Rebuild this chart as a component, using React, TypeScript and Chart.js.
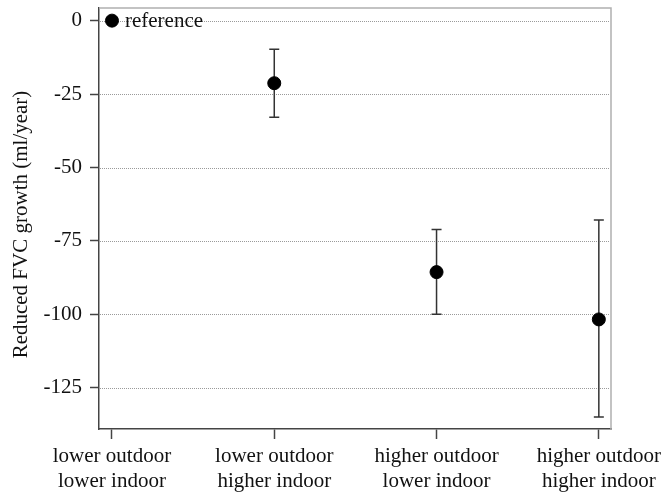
import React, { useEffect, useRef } from "react";
import { Chart, registerables } from "chart.js";

Chart.register(...registerables);

const categories: string[][] = [
  ["lower outdoor", "lower indoor"],
  ["lower outdoor", "higher indoor"],
  ["higher outdoor", "lower indoor"],
  ["higher outdoor", "higher indoor"],
];
const estimates: number[] = [0, -21.3, -85.6, -101.7];
const lowerCI: (number | null)[] = [null, -32.9, -99.9, -134.9];
const upperCI: (number | null)[] = [null, -9.7, -71.1, -67.9];
const yTicks: number[] = [0, -25, -50, -75, -100, -125];
const referenceLabel = "reference";
const yTitle = "Reduced FVC growth (ml/year)";

const FONT = "'Liberation Serif', 'DejaVu Serif', serif";

export default function App() {
  const ref = useRef<HTMLCanvasElement | null>(null);

  useEffect(() => {
    if (!ref.current) return;

    const extras = {
      id: "extras",
      beforeDatasetsDraw(chart: any) {
        const { ctx, scales, chartArea } = chart;
        const x = scales.x;
        const y = scales.y;
        ctx.save();
        // dotted horizontal grid lines
        ctx.strokeStyle = "#9a9a9a";
        ctx.lineWidth = 1;
        ctx.setLineDash([1, 1]);
        yTicks.forEach((v) => {
          const py = Math.round(y.getPixelForValue(v)) + 0.5;
          ctx.beginPath();
          ctx.moveTo(chartArea.left + 1, py);
          ctx.lineTo(chartArea.right - 1, py);
          ctx.stroke();
        });
        ctx.setLineDash([]);
        // gray top/right frame
        ctx.strokeStyle = "#b0b0b0";
        ctx.lineWidth = 1.5;
        ctx.beginPath();
        ctx.moveTo(chartArea.left, chartArea.top);
        ctx.lineTo(chartArea.right, chartArea.top);
        ctx.lineTo(chartArea.right, chartArea.bottom);
        ctx.stroke();
        // error bars
        ctx.strokeStyle = "#333";
        ctx.lineWidth = 1.5;
        estimates.forEach((_, i) => {
          const lo = lowerCI[i];
          const hi = upperCI[i];
          if (lo == null || hi == null) return;
          const px = x.getPixelForValue(i);
          const y1 = y.getPixelForValue(lo);
          const y2 = y.getPixelForValue(hi);
          ctx.beginPath();
          ctx.moveTo(px, y1);
          ctx.lineTo(px, y2);
          ctx.moveTo(px - 5, y1);
          ctx.lineTo(px + 5, y1);
          ctx.moveTo(px - 5, y2);
          ctx.lineTo(px + 5, y2);
          ctx.stroke();
        });
        ctx.restore();
      },
      afterDatasetsDraw(chart: any) {
        const { ctx, scales, chartArea } = chart;
        const px = scales.x.getPixelForValue(0);
        const py = scales.y.getPixelForValue(estimates[0]);
        ctx.save();
        ctx.fillStyle = "#111";
        ctx.font = `21px ${FONT}`;
        ctx.textAlign = "left";
        ctx.textBaseline = "alphabetic";
        ctx.fillText(referenceLabel, px + 13, py + 6);
        // y axis title
        ctx.translate(27, (chartArea.top + chartArea.bottom) / 2 + 6);
        ctx.rotate(-Math.PI / 2);
        ctx.textAlign = "center";
        ctx.textBaseline = "alphabetic";
        ctx.fillText(yTitle, 0, 0);
        ctx.restore();
      },
    };

    const chart = new Chart(ref.current, {
      type: "scatter",
      data: {
        datasets: [
          {
            data: estimates.map((v, i) => ({ x: i, y: v })),
            backgroundColor: "#000",
            borderColor: "#000",
            pointRadius: 6.5,
            pointHoverRadius: 6.5,
            showLine: false,
          },
        ],
      },
      options: {
        animation: false,
        responsive: false,
        maintainAspectRatio: false,
        layout: { padding: { top: 8, right: 53, left: 0, bottom: 0 } },
        plugins: {
          legend: { display: false },
          tooltip: { enabled: false },
        },
        scales: {
          x: {
            type: "linear",
            min: -0.08,
            max: 3.075,
            afterBuildTicks: (s: any) => {
              s.ticks = categories.map((_, i) => ({ value: i }));
            },
            afterFit: (s: any) => {
              s.height = 65;
              s.paddingLeft = 0;
              s.paddingRight = 0;
            },
            ticks: {
              callback: (v: any) => categories[Number(v)] ?? "",
              font: { family: FONT, size: 21, lineHeight: 1.2 },
              color: "#111",
              padding: 5,
              maxRotation: 0,
              autoSkip: false,
            },
            grid: {
              drawOnChartArea: false,
              drawTicks: true,
              tickLength: 10,
              tickColor: "#444",
              tickWidth: 1.5,
            },
            border: { display: true, color: "#444", width: 1.5 },
          },
          y: {
            type: "linear",
            min: -139,
            max: 4.3,
            afterBuildTicks: (s: any) => {
              s.ticks = yTicks.map((v) => ({ value: v }));
            },
            afterFit: (s: any) => {
              s.width = 99;
              s.paddingTop = 0;
              s.paddingBottom = 0;
            },
            ticks: {
              font: { family: FONT, size: 21 },
              color: "#111",
              padding: 8,
            },
            grid: {
              drawOnChartArea: false,
              drawTicks: true,
              tickLength: 9,
              tickColor: "#444",
              tickWidth: 1.5,
            },
            border: { display: true, color: "#444", width: 1.5 },
          },
        },
      },
      plugins: [extras],
    });

    return () => chart.destroy();
  }, []);

  return (
    <div style={{ position: "absolute", left: 0, top: 0, width: 664, height: 494, background: "#fff" }}>
      <canvas ref={ref} width={664} height={494} />
    </div>
  );
}
